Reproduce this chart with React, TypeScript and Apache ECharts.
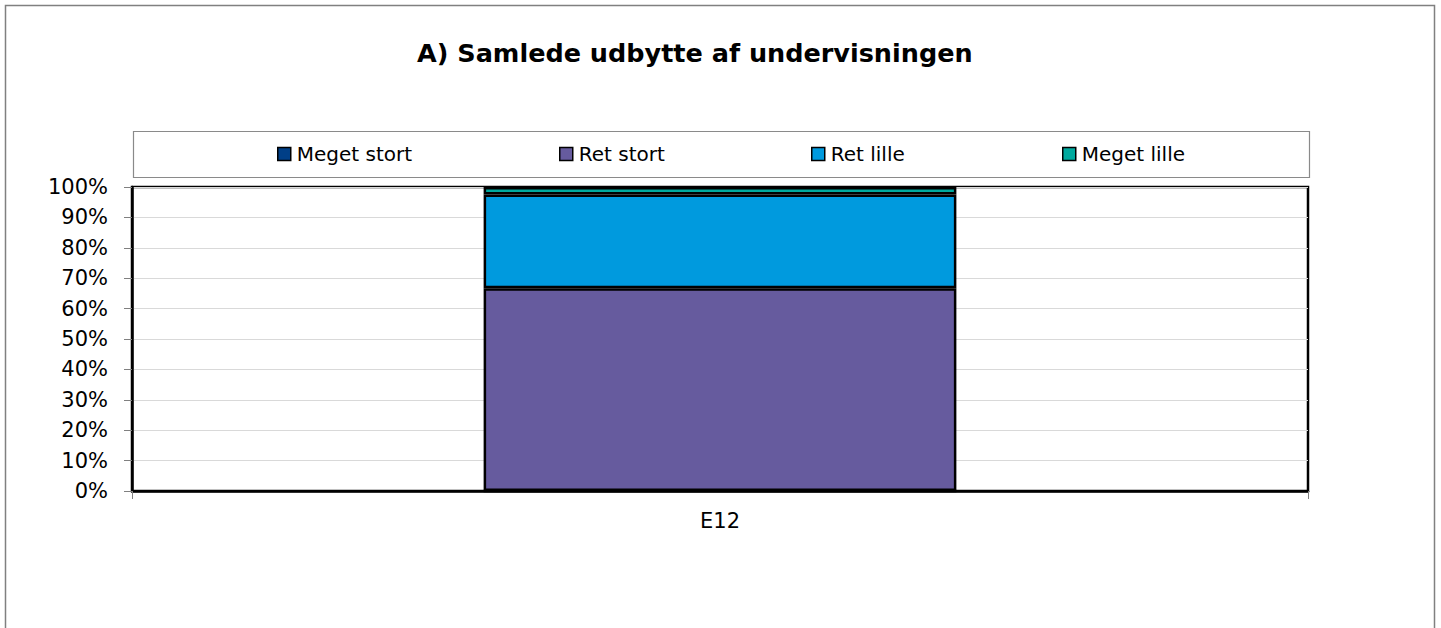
import React, { useEffect, useRef } from "react";
import * as echarts from "echarts";

const categories = ["E12"];
const seriesNames = ["Meget stort", "Ret stort", "Ret lille", "Meget lille"];
const megetStort = [0];
const retStort = [66.7];
const retLille = [30.8];
const megetLille = [2.5];
const yTicks = [0, 10, 20, 30, 40, 50, 60, 70, 80, 90, 100];
const colors = ["#003f87", "#665b9e", "#009ade", "#00a99e"];
const title = "A) Samlede udbytte af undervisningen";

const FONT = "DejaVu Sans";

export default function App() {
  const ref = useRef<HTMLDivElement>(null);
  useEffect(() => {
    if (!ref.current) return;
    const chart = echarts.init(ref.current, undefined, { renderer: "svg" });
    const values = [megetStort, retStort, retLille, megetLille];
    const legendLefts = [277, 559, 811, 1062];
    chart.setOption({
      animation: false,
      backgroundColor: "#ffffff",
      title: {
        text: title,
        left: 412,
        top: 35,
        textStyle: { fontFamily: FONT, fontSize: 25.5, fontWeight: "bold", color: "#000" },
      },
      legend: seriesNames.map((n, i) => ({
        data: [n],
        left: legendLefts[i],
        top: 144,
        itemWidth: 13,
        itemHeight: 13,
        itemGap: 0,
        icon: "rect",
        padding: 0,
        textStyle: { fontFamily: FONT, fontSize: 20, color: "#000", padding: [0, 0, 0, 1] },
        itemStyle: { borderColor: "#000", borderWidth: 1.5 },
      })),
      graphic: [
        {
          type: "rect",
          shape: { x: 5.5, y: 5.5, width: 1429, height: 700 },
          style: { fill: "none", stroke: "#808080", lineWidth: 1.5 },
          silent: true,
        },
        {
          type: "rect",
          shape: { x: 133.5, y: 131.5, width: 1176, height: 46 },
          style: { fill: "none", stroke: "#8a8a8a", lineWidth: 1.2 },
          silent: true,
        },
      ],
      grid: {
        left: 132,
        right: 133,
        top: 187,
        bottom: 137,
        show: true,
        borderColor: "#000",
        borderWidth: 2.5,
        backgroundColor: "transparent",
      },
      xAxis: {
        type: "category",
        data: categories,
        axisLine: { show: true, lineStyle: { color: "#000", width: 2.5 } },
        axisTick: { show: true, alignWithLabel: false, length: 8, inside: false, lineStyle: { color: "#808080" } },
        axisLabel: { fontFamily: FONT, fontSize: 21, color: "#000", margin: 19 },
      },
      yAxis: {
        type: "value",
        min: yTicks[0],
        max: yTicks[yTicks.length - 1],
        interval: 10,
        axisLine: { show: true, lineStyle: { color: "#000", width: 2.5 } },
        axisTick: { show: true, length: 8, lineStyle: { color: "#808080" } },
        axisLabel: { fontFamily: FONT, fontSize: 21, color: "#000", margin: 24, formatter: "{value}%" },
        splitLine: { show: true, lineStyle: { color: "#d9d9d9", width: 1 } },
      },
      series: seriesNames.map((n, i) => ({
        name: n,
        type: "bar",
        stack: "total",
        barWidth: "40.2%",
        data: values[i],
        itemStyle: { color: colors[i], borderColor: "#000", borderWidth: 2.5 },
      })),
    });
    return () => chart.dispose();
  }, []);
  return (
    <div
      ref={ref}
      style={{ position: "fixed", left: 0, top: 0, width: 1441, height: 628, background: "#fff" }}
    />
  );
}
